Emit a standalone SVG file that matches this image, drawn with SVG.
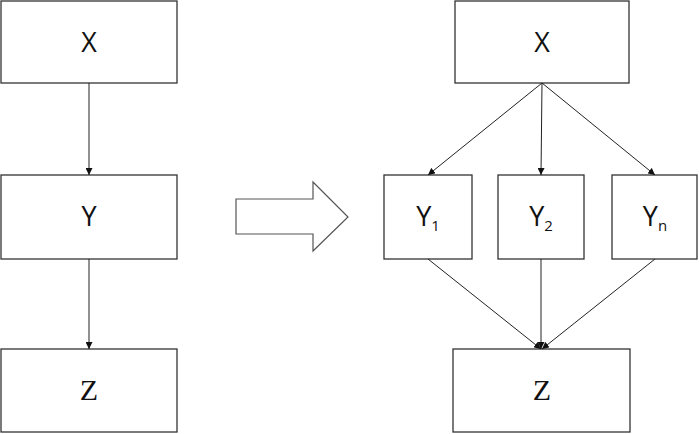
<svg xmlns="http://www.w3.org/2000/svg" width="699" height="434" viewBox="0 0 699 434">
<style>
.box{fill:#fff;stroke:#333;stroke-width:1.3}
.t{font-family:"Open Sans","Liberation Sans",sans-serif;font-size:27px;fill:#111;text-anchor:middle}
.zs{font-family:"Liberation Serif","DejaVu Serif",serif;font-size:30px;fill:#111;text-anchor:middle}
.sub{font-size:15px}
.c line{stroke:#222;stroke-width:1}
</style>
<defs>
<marker id="ah" viewBox="0 0 10 10" refX="10" refY="5" markerWidth="7" markerHeight="7" orient="auto" markerUnits="userSpaceOnUse">
<path d="M0,0 L10,5 L0,10 z" fill="#111"/>
</marker>
</defs>
<rect width="699" height="434" fill="#fff"/>
<g id="left-x"><rect class="box" x="1" y="1" width="176" height="82"/><text class="t" x="89" y="52">X</text></g>
<g id="left-y"><rect class="box" x="1" y="175" width="176" height="84"/><text class="t" x="89" y="226">Y</text></g>
<g id="left-z"><rect class="box" x="1" y="349" width="176" height="83"/><text class="zs" x="89" y="400" font-family="Liberation Serif, serif">Z</text></g>
<g id="big-arrow"><path d="M236,199 H313 V182 L348,217 L313,251 V234 H236 Z" fill="#fff" stroke="#555" stroke-width="1.2"/></g>
<g id="right-x"><rect class="box" x="455" y="1" width="174" height="82"/><text class="t" x="542" y="52">X</text></g>
<g id="y1"><rect class="box" x="384" y="175" width="88" height="84"/><text class="t" x="428" y="226">Y<tspan class="sub" dy="5">1</tspan></text></g>
<g id="y2"><rect class="box" x="498" y="175" width="86" height="84"/><text class="t" x="541" y="226">Y<tspan class="sub" dy="5">2</tspan></text></g>
<g id="yn"><rect class="box" x="612" y="175" width="85" height="84"/><text class="t" x="655" y="226">Y<tspan class="sub" dy="5">n</tspan></text></g>
<g id="right-z"><rect class="box" x="453" y="349" width="177" height="83"/><text class="zs" x="542" y="400" font-family="Liberation Serif, serif">Z</text></g>
<g class="c" id="connectors">
<line x1="89" y1="83" x2="89" y2="175" marker-end="url(#ah)"/>
<line x1="89" y1="259" x2="89" y2="349" marker-end="url(#ah)"/>
<line x1="542" y1="83" x2="428" y2="175" marker-end="url(#ah)"/>
<line x1="542" y1="83" x2="541" y2="175" marker-end="url(#ah)"/>
<line x1="542" y1="83" x2="655" y2="175" marker-end="url(#ah)"/>
<line x1="428" y1="259" x2="541" y2="349" marker-end="url(#ah)"/>
<line x1="541" y1="259" x2="541" y2="349" marker-end="url(#ah)"/>
<line x1="655" y1="259" x2="542" y2="349" marker-end="url(#ah)"/>
</g>
</svg>
